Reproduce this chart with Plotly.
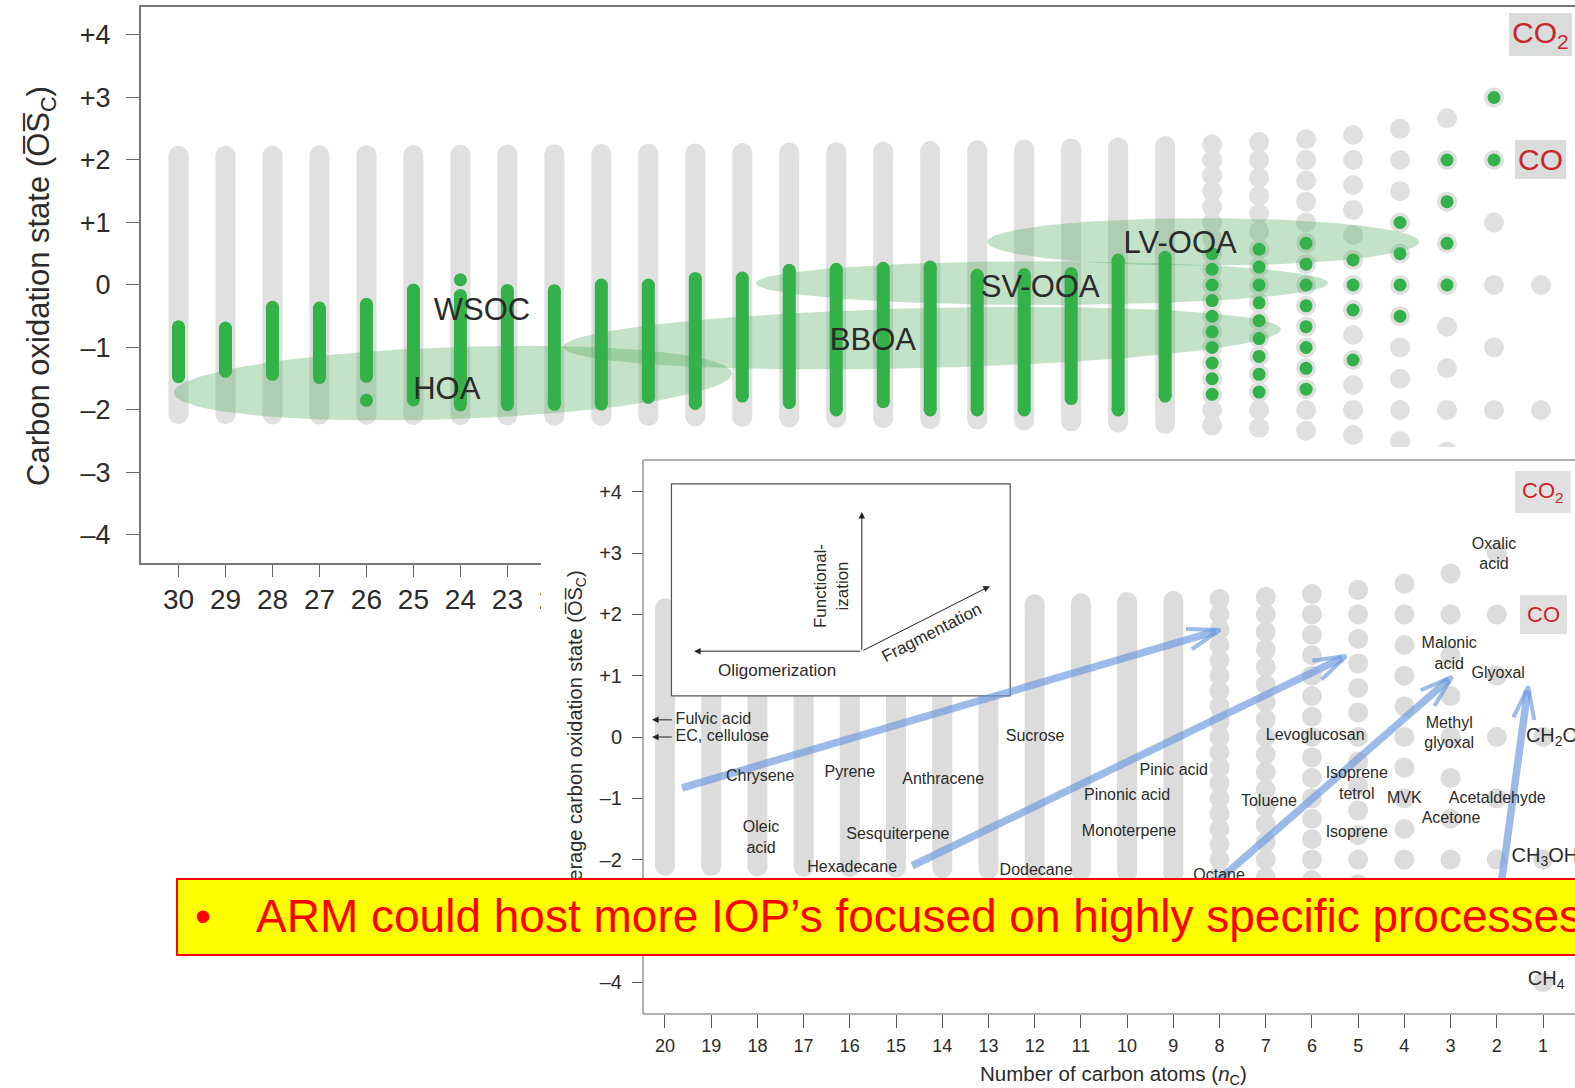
import math
import plotly.graph_objects as go

W, H = 1575, 1088
FONT = "Liberation Sans, Arial, sans-serif"
INK = "#2b2b2b"

# ---------------------------------------------------------------------------
# Possible carbon oxidation states (OSc) for the smallest molecules
# ---------------------------------------------------------------------------
osc_c1 = [4, 2, 0, -2, -4]
osc_c2 = [3, 2, 1, 0, -1, -2, -3]
osc_c3 = [2.667, 2, 1.333, 0.667, 0, -0.667, -1.333, -2, -2.667]
osc_c4 = [2.5, 2, 1.5, 1, 0.5, 0, -0.5, -1, -1.5, -2, -2.5]
osc_c5 = [2.4, 2, 1.6, 1.2, 0.8, 0.4, 0, -0.4, -0.8, -1.2, -1.6, -2, -2.4]
osc_c6 = [2.333, 2, 1.667, 1.333, 1, 0.667, 0.333, 0, -0.333, -0.667, -1,
          -1.333, -1.667, -2, -2.333]
osc_c7 = [2.286, 2, 1.714, 1.429, 1.143, 0.857, 0.571, 0.286, 0, -0.286,
          -0.571, -0.857, -1.143, -1.429, -1.714, -2, -2.286]
osc_c8 = [2.25, 2, 1.75, 1.5, 1.25, 1, 0.75, 0.5, 0.25, 0, -0.25, -0.5,
          -0.75, -1, -1.25, -1.5, -1.75, -2, -2.25]
small_cols = [1, 2, 3, 4, 5, 6, 7, 8]
small_osc = [osc_c1, osc_c2, osc_c3, osc_c4, osc_c5, osc_c6, osc_c7, osc_c8]

# Larger molecules: the states sit so close together that each column is a bar
bar_n = [9, 10, 11, 12, 13, 14, 15, 16, 17, 18, 19, 20,
         21, 22, 23, 24, 25, 26, 27, 28, 29, 30]
bar_top = [2.222, 2.2, 2.182, 2.167, 2.154, 2.143, 2.133, 2.125, 2.118, 2.111,
           2.105, 2.1, 2.095, 2.091, 2.087, 2.083, 2.08, 2.077, 2.074, 2.071,
           2.069, 2.067]
bar_bottom = [-2.222, -2.2, -2.182, -2.167, -2.154, -2.143, -2.133, -2.125,
              -2.118, -2.111, -2.105, -2.1, -2.095, -2.091, -2.087, -2.083,
              -2.08, -2.077, -2.074, -2.071, -2.069, -2.067]

# ---------------------------------------------------------------------------
# Observed organic aerosol / precursor compositions (green)
# ---------------------------------------------------------------------------
obs_c2 = [3, 2]
obs_c3 = [2, 1.333, 0.667, 0]
obs_c4 = [1, 0.5, 0, -0.5]
obs_c5 = [0.4, 0, -0.4, -1.2]
obs_c6 = [0.667, 0.333, 0, -0.333, -0.667, -1, -1.333, -1.667]
obs_c7 = [0.571, 0.286, 0, -0.286, -0.571, -0.857, -1.143, -1.429, -1.714]
obs_c8 = [0.5, 0.25, 0, -0.25, -0.5, -0.75, -1, -1.25, -1.5, -1.75]
obs_small_n = [2, 3, 4, 5, 6, 7, 8]
obs_small_osc = [obs_c2, obs_c3, obs_c4, obs_c5, obs_c6, obs_c7, obs_c8]

obs_bar_n = [9, 10, 11, 12, 13, 14, 15, 16, 17, 18, 19, 20,
             21, 22, 23, 24, 25, 26, 27, 28, 29, 30]
obs_bar_hi = [0.444, 0.4, 0.182, 0.167, 0.154, 0.286, 0.267, 0.25, 0.235,
              0.111, 0.105, 0.0, 0.0, -0.091, -0.087, -0.167, -0.08, -0.308,
              -0.37, -0.357, -0.69, -0.667]
obs_bar_lo = [-1.778, -2.0, -1.818, -2.0, -2.0, -2.0, -1.867, -2.0, -1.882,
              -1.778, -1.895, -1.8, -1.905, -1.909, -1.913, -1.917, -1.84,
              -1.462, -1.481, -1.429, -1.379, -1.467]
obs_extra_n = [24, 26]
obs_extra_osc = [0.083, -1.846]

# Factor-analysis regions (centre, half-width in n_C, half-height in OSc, tilt deg)
region_name = ["HOA", "BBOA", "SV-OOA", "LV-OOA"]
region_cx = [24.16, 14.17, 11.62, 8.19]
region_cy = [-1.57, -0.85, 0.03, 0.69]
region_rx = [5.94, 7.64, 6.09, 4.6]
region_ry = [0.576, 0.48, 0.35, 0.38]
region_tilt = [2.0, 1.4, 0.0, 0.0]

label_text = ["WSOC", "HOA", "BBOA", "SV-OOA", "LV-OOA"]
label_n = [23.54, 24.29, 15.22, 11.66, 8.68]
label_osc = [-0.44, -1.70, -0.92, -0.07, 0.64]

# ---------------------------------------------------------------------------
# Lower panel: named compounds and reaction pathways
# ---------------------------------------------------------------------------
cmpd_text = ["Chrysene", "Pyrene", "Anthracene", "Oleic<br>acid",
             "Sesquiterpene", "Hexadecane", "Sucrose", "Dodecane",
             "Pinic acid", "Pinonic acid", "Monoterpene", "Levoglucosan",
             "Toluene", "Octane", "Isoprene<br>tetrol", "MVK", "Isoprene",
             "Acetaldehyde", "Acetone", "Methyl<br>glyoxal",
             "Malonic<br>acid", "Glyoxal", "Oxalic<br>acid"]
cmpd_n = [17.94, 16.0, 13.98, 17.92, 14.96, 15.95, 11.99, 11.97, 8.99, 10.0,
          9.96, 5.93, 6.93, 8.01, 5.03, 4.0, 5.03, 1.99, 2.99, 3.03, 3.03,
          1.97, 2.06]
cmpd_osc = [-0.65, -0.59, -0.70, -1.65, -1.60, -2.14, 0.0, -2.19, -0.55,
            -0.96, -1.55, 0.02, -1.06, -2.27, -0.78, -1.01, -1.57, -1.01,
            -1.34, 0.05, 1.34, 1.03, 2.97]

c1_text = ["CH<sub>2</sub>O", "CH<sub>3</sub>OH", "CH<sub>4</sub>"]
c1_n = [1.37, 1.68, 1.33]
c1_osc = [0.0, -1.96, -3.96]

macro_text = ["Fulvic acid", "EC, cellulose"]
macro_osc = [0.28, 0.0]
macro_n = 19.77
macro_arrow_from = 19.82
macro_arrow_to = 20.28

path_n0 = [19.63, 14.65, 8.27, 2.10]
path_osc0 = [-0.83, -2.10, -2.50, -3.47]
path_n1 = [7.99, 5.26, 2.97, 1.32]
path_osc1 = [1.745, 1.32, 0.98, 0.82]

# schematic key box (n_C and OSc extents of the lower panel)
key_n = [19.86, 12.53]
key_osc = [0.67, 4.13]
key_origin = (15.74, 1.40)
key_up = (15.74, 3.67)
key_left = (19.37, 1.40)
key_diag = (12.97, 2.46)

# ---------------------------------------------------------------------------
# Axes placement (pixel-based so that the two panels overlap as drawn)
# ---------------------------------------------------------------------------
MAIN_X_DOM = [140.6 / W, 1.0]
MAIN_Y_DOM = [1 - 563.3 / H, 1 - 7.3 / H]
MAIN_X_RANGE = [30.807, 0.276]
MAIN_Y_RANGE = [-4.453, 4.443]

INS_X_DOM = [541 / W, 1.0]
INS_Y_DOM = [1 - 1027 / H, 1 - 447 / H]
INS_X_RANGE = [22.683, 0.3075]
INS_Y_RANGE = [-4.73, 4.73]
INS_LEFT = 643 / W
INS_BOTTOM = 1 - 1014 / H
INS_TOP = 1 - 460 / H

sx_main = W * (MAIN_X_DOM[1] - MAIN_X_DOM[0]) / abs(MAIN_X_RANGE[0] - MAIN_X_RANGE[1])
sy_main = H * (MAIN_Y_DOM[1] - MAIN_Y_DOM[0]) / (MAIN_Y_RANGE[1] - MAIN_Y_RANGE[0])
sx_ins = W * (INS_X_DOM[1] - INS_X_DOM[0]) / abs(INS_X_RANGE[0] - INS_X_RANGE[1])
sy_ins = H * (INS_Y_DOM[1] - INS_Y_DOM[0]) / (INS_Y_RANGE[1] - INS_Y_RANGE[0])

GRAY_MAIN = "#e0e0e0"
GRAY_INS = "#dcdcdc"
GREEN = "#33b24a"
REGION_FILL = "rgba(70,165,80,0.32)"
PATH_COLOR = "rgba(105,152,220,0.66)"
CO_RED = "#c8262c"

fig = go.Figure()


def column_traces(max_n, xa, ya, color, size):
    xs, ys = [], []
    for n, vals in zip(small_cols, small_osc):
        if n <= max_n:
            xs.extend([n] * len(vals))
            ys.extend(vals)
    bx, by = [], []
    for n, lo, hi in zip(bar_n, bar_bottom, bar_top):
        if n <= max_n:
            bx.extend([n, n, None])
            by.extend([lo, hi, None])
    return [
        go.Scatter(x=xs, y=ys, mode="markers", xaxis=xa, yaxis=ya,
                   marker=dict(size=size, color=color, line_width=0),
                   hoverinfo="skip"),
        go.Scatter(x=bx, y=by, mode="lines+markers", xaxis=xa, yaxis=ya,
                   line=dict(color=color, width=size),
                   marker=dict(size=size, color=color, line_width=0),
                   hoverinfo="skip"),
    ]


# ---------------- upper panel ----------------
for tr in column_traces(30, "x", "y", GRAY_MAIN, 20):
    fig.add_trace(tr)

for cx, cy, rx, ry, tilt in zip(region_cx, region_cy, region_rx, region_ry, region_tilt):
    a, b, th = rx * sx_main, ry * sy_main, math.radians(tilt)
    ex, ey = [], []
    for k in range(145):
        t = 2 * math.pi * k / 144
        u, w = a * math.cos(t), b * math.sin(t)
        dx = u * math.cos(th) - w * math.sin(th)
        dy = u * math.sin(th) + w * math.cos(th)
        ex.append(cx - dx / sx_main)
        ey.append(cy + dy / sy_main)
    fig.add_trace(go.Scatter(x=ex, y=ey, mode="lines", fill="toself",
                             fillcolor=REGION_FILL, line=dict(width=0),
                             hoverinfo="skip"))

gx, gy = [], []
for n, vals in zip(obs_small_n, obs_small_osc):
    gx.extend([n] * len(vals))
    gy.extend(vals)
gx.extend(obs_extra_n)
gy.extend(obs_extra_osc)
fig.add_trace(go.Scatter(x=gx, y=gy, mode="markers",
                         marker=dict(size=13, color=GREEN, line_width=0),
                         hoverinfo="skip"))
bx, by = [], []
for n, lo, hi in zip(obs_bar_n, obs_bar_lo, obs_bar_hi):
    bx.extend([n, n, None])
    by.extend([lo, hi, None])
fig.add_trace(go.Scatter(x=bx, y=by, mode="lines+markers",
                         line=dict(color=GREEN, width=13),
                         marker=dict(size=13, color=GREEN, line_width=0),
                         hoverinfo="skip"))

fig.add_trace(go.Scatter(x=label_n, y=label_osc, mode="text", text=label_text,
                         textfont=dict(family=FONT, size=31, color=INK),
                         hoverinfo="skip"))

# ---------------- lower panel ----------------
for tr in column_traces(20, "x2", "y2", GRAY_INS, 20):
    fig.add_trace(tr)

# schematic key box (white, covers the columns behind it)
fig.add_trace(go.Scatter(
    x=[key_n[0], key_n[1], key_n[1], key_n[0], key_n[0]],
    y=[key_osc[0], key_osc[0], key_osc[1], key_osc[1], key_osc[0]],
    mode="lines", fill="toself", fillcolor="white",
    line=dict(color="#555555", width=1.2), xaxis="x2", yaxis="y2",
    hoverinfo="skip"))

# reaction pathway arrows: shaft + open chevron head
shaft_x, shaft_y, head_x, head_y = [], [], [], []
for n0, v0, n1, v1 in zip(path_n0, path_osc0, path_n1, path_osc1):
    X0, Y0 = -n0 * sx_ins, v0 * sy_ins
    X1, Y1 = -n1 * sx_ins, v1 * sy_ins
    L = math.hypot(X1 - X0, Y1 - Y0)
    ux, uy = (X1 - X0) / L, (Y1 - Y0) / L
    shaft_x.extend([n0, -(X1 - 4 * ux) / sx_ins, None])
    shaft_y.extend([v0, (Y1 - 4 * uy) / sy_ins, None])
    wings = []
    for sgn in (1, -1):
        ang = math.radians(18) * sgn
        wx = -ux * math.cos(ang) + uy * math.sin(ang)
        wy = -ux * math.sin(ang) - uy * math.cos(ang)
        wings.append((X1 + 34 * wx, Y1 + 34 * wy))
    for (px, py) in (wings[0], (X1, Y1), wings[1]):
        head_x.append(-px / sx_ins)
        head_y.append(py / sy_ins)
    head_x.append(None)
    head_y.append(None)

fig.add_trace(go.Scatter(x=shaft_x, y=shaft_y, mode="lines", xaxis="x2", yaxis="y2",
                         line=dict(color=PATH_COLOR, width=7.5), hoverinfo="skip"))
fig.add_trace(go.Scatter(x=head_x, y=head_y, mode="lines", xaxis="x2", yaxis="y2",
                         line=dict(color=PATH_COLOR, width=4), hoverinfo="skip"))

fig.add_trace(go.Scatter(x=cmpd_n, y=cmpd_osc, mode="text", text=cmpd_text,
                         textposition="middle center", xaxis="x2", yaxis="y2",
                         textfont=dict(family=FONT, size=16, color=INK),
                         hoverinfo="skip"))
fig.add_trace(go.Scatter(x=c1_n, y=c1_osc, mode="text", text=c1_text,
                         textposition="middle right", xaxis="x2", yaxis="y2",
                         textfont=dict(family=FONT, size=20, color=INK),
                         hoverinfo="skip"))
fig.add_trace(go.Scatter(x=[macro_n, macro_n], y=macro_osc, mode="text",
                         text=macro_text, textposition="middle right",
                         xaxis="x2", yaxis="y2",
                         textfont=dict(family=FONT, size=16, color=INK),
                         hoverinfo="skip"))

# ---------------------------------------------------------------------------
# Axes
# ---------------------------------------------------------------------------
main_ticks = [-4, -3, -2, -1, 0, 1, 2, 3, 4]
main_ticktext = ["\u20134", "\u20133", "\u20132", "\u20131", "0", "+1", "+2", "+3", "+4"]
n_ticks_main = list(range(30, 0, -1))
n_ticks_ins = list(range(20, 0, -1))

fig.update_layout(
    width=W, height=H,
    margin=dict(l=0, r=0, t=0, b=0),
    paper_bgcolor="white", plot_bgcolor="white",
    showlegend=False, hovermode=False,
    font=dict(family=FONT, color=INK),
    xaxis=dict(domain=MAIN_X_DOM, range=MAIN_X_RANGE, anchor="y",
               tickmode="array", tickvals=n_ticks_main,
               ticktext=[str(v) for v in n_ticks_main],
               ticks="outside", ticklen=12, tickwidth=1.3, tickcolor="#666666",
               showline=True, linecolor="#777777", linewidth=1.5, mirror=True,
               showgrid=False, zeroline=False, ticklabelstandoff=-2,
               tickfont=dict(family=FONT, size=28, color=INK)),
    yaxis=dict(domain=MAIN_Y_DOM, range=MAIN_Y_RANGE, anchor="x",
               tickmode="array", tickvals=main_ticks, ticktext=main_ticktext,
               ticks="outside", ticklen=13, tickwidth=1.3, tickcolor="#666666",
               showline=True, linecolor="#777777", linewidth=1.5,
               showgrid=False, zeroline=False, ticklabelstandoff=10,
               tickfont=dict(family=FONT, size=27, color=INK)),
    xaxis2=dict(domain=INS_X_DOM, range=INS_X_RANGE, anchor="free",
                position=INS_BOTTOM,
                tickmode="array", tickvals=n_ticks_ins,
                ticktext=[str(v) for v in n_ticks_ins],
                ticks="outside", ticklen=13, tickwidth=1, tickcolor="#555555",
                showline=False, showgrid=False, zeroline=False,
                ticklabelstandoff=2,
                tickfont=dict(family=FONT, size=18, color=INK)),
    yaxis2=dict(domain=INS_Y_DOM, range=INS_Y_RANGE, anchor="free",
                position=INS_LEFT,
                tickmode="array", tickvals=main_ticks, ticktext=main_ticktext,
                ticks="outside", ticklen=11, tickwidth=1, tickcolor="#555555",
                showline=False, showgrid=False, zeroline=False,
                ticklabelstandoff=6,
                tickfont=dict(family=FONT, size=20, color=INK),
                title=dict(text="Average carbon oxidation state (O\u0305S\u0305<sub>C</sub>)",
                           font=dict(family=FONT, size=20, color=INK),
                           standoff=10)),
)

# lower-panel frame
frame = dict(type="line", xref="paper", yref="paper", layer="above",
             line=dict(color="#999999", width=1.5))
fig.add_shape(**frame, x0=INS_LEFT, x1=INS_LEFT, y0=INS_BOTTOM, y1=INS_TOP)
fig.add_shape(**frame, x0=INS_LEFT, x1=1.0, y0=INS_BOTTOM, y1=INS_BOTTOM)
fig.add_shape(**frame, x0=INS_LEFT, x1=1.0, y0=INS_TOP, y1=INS_TOP)

# ---------------------------------------------------------------------------
# Annotations
# ---------------------------------------------------------------------------
fig.add_annotation(text="Carbon oxidation state (O\u0305S\u0305<sub>C</sub>)",
                   xref="paper", yref="paper", x=41 / W, y=1 - 286 / H,
                   xanchor="center", yanchor="middle",
                   textangle=-90, showarrow=False,
                   font=dict(family=FONT, size=31, color=INK))
fig.add_annotation(text="Number of carbon atoms (<i>n</i><sub>C</sub>)",
                   xref="paper", yref="paper", x=1113 / W, y=1 - 1075 / H,
                   xanchor="center", yanchor="middle",
                   showarrow=False, font=dict(family=FONT, size=20.5, color=INK))

for txt, v in (("CO<sub>2</sub>", 4), ("CO", 2)):
    fig.add_annotation(text=txt, x=1, y=v, xref="x", yref="y", showarrow=False,
                       bgcolor="#d9dcda", borderpad=3, borderwidth=0,
                       font=dict(family=FONT, size=30, color=CO_RED))
    fig.add_annotation(text=txt, x=1, y=v, xref="x2", yref="y2", showarrow=False,
                       bgcolor="#e0e0e0", borderpad=7, borderwidth=0,
                       font=dict(family=FONT, size=22, color=CO_RED))

# key box contents
key_font = dict(family=FONT, size=17, color=INK)
fig.add_annotation(text="Functional-<br>ization", x=16.41, y=2.46, xref="x2",
                   yref="y2", textangle=-90, showarrow=False, font=key_font)
fig.add_annotation(text="Oligomerization", x=17.58, y=1.09, xref="x2",
                   yref="y2", showarrow=False, font=key_font)
fig.add_annotation(text="Fragmentation", x=14.22, y=1.70, xref="x2",
                   yref="y2", textangle=-27, showarrow=False, font=key_font)
for head in (key_up, key_left, key_diag):
    fig.add_annotation(text="", x=head[0], y=head[1], ax=key_origin[0],
                       ay=key_origin[1], xref="x2", yref="y2", axref="x2",
                       ayref="y2", showarrow=True, arrowhead=2, arrowsize=1.3,
                       arrowwidth=1, arrowcolor="#222222", standoff=0,
                       startstandoff=0)
for v in macro_osc:
    fig.add_annotation(text="", x=macro_arrow_to, y=v, ax=macro_arrow_from, ay=v,
                       xref="x2", yref="y2", axref="x2", ayref="y2",
                       showarrow=True, arrowhead=2, arrowsize=1.3, arrowwidth=1,
                       arrowcolor="#222222", standoff=0, startstandoff=0)

# highlighted statement banner
fig.add_annotation(text=" ", xref="paper", yref="paper", x=176 / W,
                   y=1 - 917 / H, xanchor="left", yanchor="middle",
                   width=1450, height=74, bgcolor="#ffff00",
                   bordercolor="#ff0000", borderwidth=2, borderpad=0,
                   showarrow=False)
fig.add_annotation(text="\u2022", xref="paper", yref="paper", x=203 / W,
                   y=1 - 916 / H, xanchor="center", yanchor="middle",
                   showarrow=False, font=dict(family=FONT, size=46, color="#ff0000"))
fig.add_annotation(text="ARM could host more IOP\u2019s focused on highly specific processes",
                   xref="paper", yref="paper", x=254 / W, y=1 - 916 / H,
                   xanchor="left", yanchor="middle", showarrow=False,
                   font=dict(family=FONT, size=46, color="#ff0000"))

fig.write_html("out.html")
